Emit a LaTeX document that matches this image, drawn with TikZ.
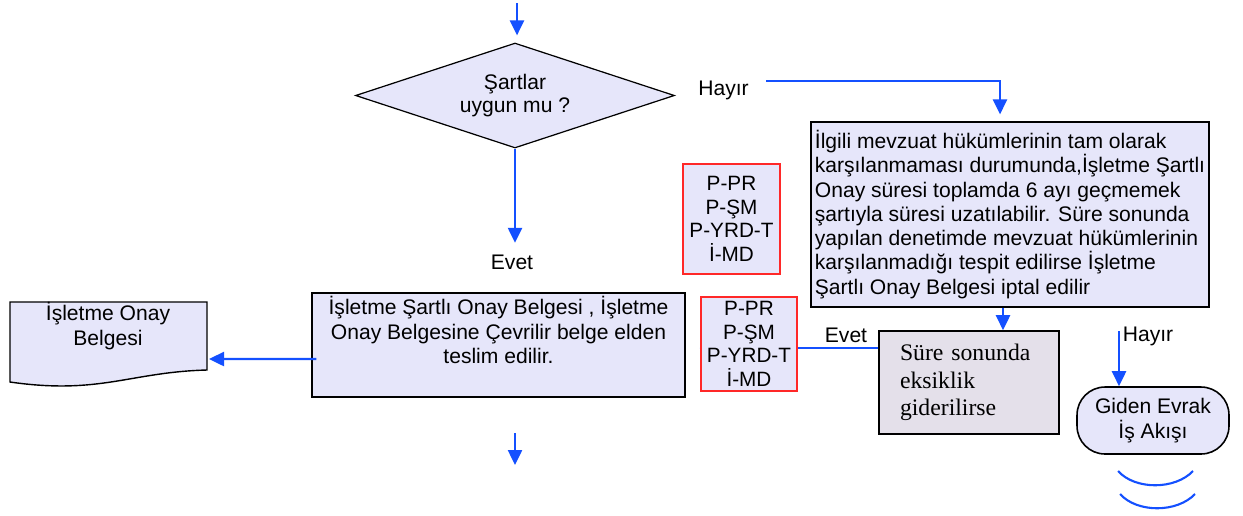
\documentclass[tikz,border=0pt]{standalone}
\usepackage{fontspec}
\setmainfont{Liberation Sans}
\newfontfamily\timesfont{Liberation Serif}
\usetikzlibrary{shapes.geometric,arrows.meta}
\definecolor{lila}{RGB}{230,230,250}
\definecolor{gri}{RGB}{228,224,234}
\definecolor{mavi}{RGB}{20,80,255}
\definecolor{kirmizi}{RGB}{255,40,40}

\begin{document}
\begin{tikzpicture}[x=0.02cm,y=-0.02cm,
    font=\fontsize{12}{13.8}\selectfont,
    ok/.style={mavi,line width=1.4pt,-{Triangle[length=0.3cm,width=0.28cm]}},
    kutu/.style={draw,fill=lila,line width=0.7pt,inner sep=0pt},
    refkutu/.style={draw=kirmizi,fill=lila,line width=0.7pt,inner sep=0pt,align=center,
        font=\fontsize{11.8}{13.4}\selectfont},
    lbl/.style={inner sep=2pt}]
    \useasboundingbox (0,0) rectangle (1243,515);

    % karar
    \node[kutu,diamond,aspect=3,minimum width=6.38cm,minimum height=2.1cm,align=center,
        font=\fontsize{12}{13.2}\selectfont] (karar) at (515,95.5) {Şartlar\\uygun mu ?};
    \node[lbl] (hayir1) at (723.5,90) {Hayır};
    \node[lbl] (evet1) at (512,262) {Evet};

    % uzun aciklama
    \node[kutu,align=left,minimum width=7.96cm,minimum height=3.7cm] (uzun) at (1010,214.5)
        {İlgili mevzuat hükümlerinin tam olarak\\karşılanmaması durumunda,İşletme Şartlı\\Onay süresi toplamda 6 ayı geçmemek\\şartıyla süresi uzatılabilir. Süre sonunda\\yapılan denetimde mevzuat hükümlerinin\\karşılanmadığı tespit edilirse İşletme\\Şartlı Onay Belgesi iptal edilir};

    \node[refkutu,minimum width=1.94cm,minimum height=2.2cm] (ref1) at (731.5,219)
        {P-PR\\P-ŞM\\P-YRD-T\\İ-MD};

    \node[kutu] (orta) at (498.5,345)
        {\parbox[c][2.08cm][t]{7.46cm}{\centering\vspace{2pt}İşletme Şartlı Onay Belgesi , İşletme\\Onay Belgesine Çevrilir belge elden\\teslim edilir.}};

    % belge sekli
    \draw[fill=lila,line width=0.8pt] (10,302) -- (207,302) -- (207,370)
        .. controls (130,372) and (100,395) .. (10,382) -- cycle;
    \node[lbl,align=center] (belge) at (108,326) {İşletme Onay\\Belgesi};
    \coordinate (belgeuc) at (209,359);

    \node[draw,fill=gri,line width=0.9pt,minimum width=3.6cm,minimum height=2.06cm,
        text width=2.76cm,inner xsep=0.42cm,align=left,
        font=\timesfont\fontsize{13.5}{15.6}\selectfont] (sure) at (969,382.5)
        {Süre sonunda\\eksiklik\\giderilirse};
    \node[draw,fill=lila,line width=0.9pt,rounded corners=0.56cm,minimum width=3.04cm,
        minimum height=1.34cm,align=center] (son) at (1153,420.5) {Giden Evrak\\İş Akışı};
    \node[lbl] (evet2) at (846,335) {Evet};
    \node[lbl] (hayir2) at (1148,336) {Hayır};

    % oklar
    \coordinate (giris) at (517,3);
    \draw[ok,shorten >=0.14cm] (giris) -- (giris |- karar.north);
    \draw[ok,shorten >=0.16cm] (karar.south) -- (karar.south |- evet1.north);
    \coordinate (h1) at (766,81);
    \draw[ok] (h1) -| ([xshift=-0.2cm,yshift=0.14cm]uzun.north);
    \draw[ok] ([xshift=-0.14cm]uzun.south) -- ([xshift=-0.14cm]uzun.south |- sure.north);
    \draw[ok,shorten >=0.28cm] ([yshift=0.69cm]sure.west) -- ([yshift=0.69cm]sure.west -| orta.east);
    \draw[ok] ([xshift=0.1cm,yshift=-0.28cm]orta.west) -- (belgeuc);
    \coordinate (cikis) at (515,433);
    \draw[ok] (cikis) -- ++(0,32);
    \coordinate (h3) at (1119,331);
    \draw[ok] (h3) -- (h3 |- son.north);

    \node[refkutu,minimum width=1.92cm,minimum height=1.88cm] (ref2) at (749,344)
        {P-PR\\P-ŞM\\P-YRD-T\\İ-MD};

    % alt baglanti
    \draw[mavi,line width=1.2pt] (1118,471) .. controls (1135,490) and (1175,490) .. (1193,471);
    \draw[mavi,line width=1.2pt] (1120,494) .. controls (1137,513) and (1177,513) .. (1195,494);
\end{tikzpicture}
\end{document}
